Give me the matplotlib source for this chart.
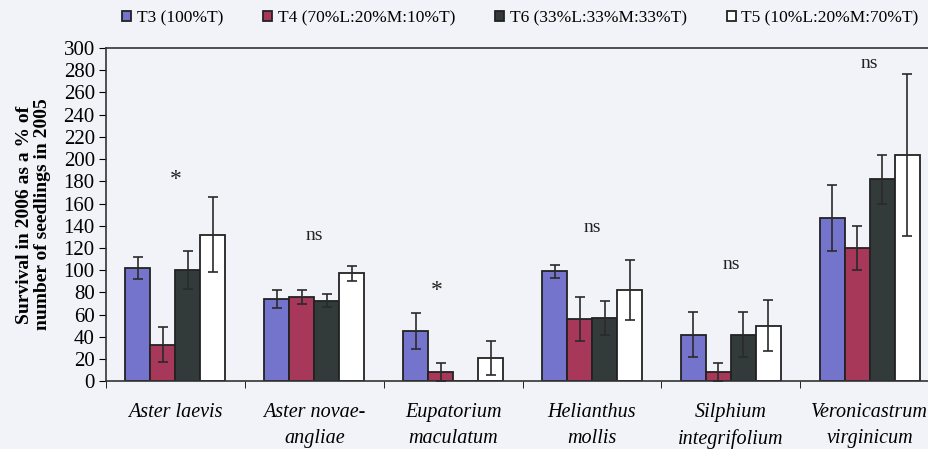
import matplotlib
matplotlib.use('Agg')
import matplotlib.pyplot as plt
import numpy as np

# data
species = ['Aster laevis', 'Aster novae-\nangliae', 'Eupatorium\nmaculatum',
           'Helianthus\nmollis', 'Silphium\nintegrifolium', 'Veronicastrum\nvirginicum']
labels = ['T3 (100%T)', 'T4 (70%L:20%M:10%T)', 'T6 (33%L:33%M:33%T)', 'T5 (10%L:20%M:70%T)']
t3 = [102, 74, 45, 99, 42, 147]
t3_err = [10, 8.5, 16, 6, 20, 30]
t4 = [33, 76, 8, 56, 8, 120]
t4_err = [16, 6.5, 8, 20, 8, 20]
t6 = [100, 72.5, 0, 57, 42, 182]
t6_err = [17, 6, 0, 15, 20, 22]
t5 = [132, 97, 21, 82, 50, 204]
t5_err = [34, 7, 15.5, 27, 23, 73]
signif = ['*', 'ns', '*', 'ns', 'ns', 'ns']
signif_y = [182, 131, 82, 138, 105, 286]

bg = '#f2f3f8'
colors = ['#7474cc', '#a8385a', '#333a3a', 'white']

plt.rcParams['font.family'] = ['Liberation Serif', 'DejaVu Serif']

fig = plt.figure(figsize=(9.29, 4.49), dpi=100, facecolor=bg)
ax = fig.add_axes([0.114, 0.151, 0.897, 0.742], facecolor=bg)

x = np.arange(len(species))
w = 0.18
series = [(t3, t3_err), (t4, t4_err), (t6, t6_err), (t5, t5_err)]
for i, (vals, errs) in enumerate(series):
    pos = x + (i - 1.5) * w
    ax.bar(pos, vals, w, color=colors[i], edgecolor='#222222', linewidth=1.3,
           label=labels[i], zorder=2)
    for p, v, e in zip(pos, vals, errs):
        if e > 0:
            ax.errorbar(p, v, yerr=e, fmt='none', ecolor='#2a2a2a', elinewidth=1.2,
                        capsize=3.8, capthick=1.2, zorder=3)

for i, s in enumerate(signif):
    dx = -0.12 if i == 2 else 0.0
    fs = 17 if s == '*' else 14
    ax.text(x[i] + dx, signif_y[i], s, ha='center', va='center', fontsize=fs, color='#222222')

ax.set_xlim(-0.5, 5.5)
ax.set_ylim(0, 300)
ax.set_yticks(range(0, 301, 20))
ax.tick_params(axis='y', labelsize=15, direction='out', length=5, pad=3)
ax.set_xticks(x)
ax.set_xticklabels(species, fontsize=14.5, style='italic', linespacing=1.45)
ax.tick_params(axis='x', length=0, pad=16)
ax.set_xticks(np.arange(-0.5, 6, 1), minor=True)
ax.tick_params(axis='x', which='minor', length=5, direction='out')
for sp in ['left', 'bottom', 'top']:
    ax.spines[sp].set_color('#333333')
    ax.spines[sp].set_linewidth(1.2)
ax.spines['right'].set_visible(False)

ax.set_ylabel('Survival in 2006 as a % of\nnumber of seedlings in 2005',
              fontsize=14, fontweight='bold', linespacing=1.1)
ax.yaxis.set_label_coords(-0.066, 0.5)

fig.legend(loc='upper left', bbox_to_anchor=(0.118, 1.005), ncol=4, frameon=False,
           fontsize=12.5, handlelength=0.55, handleheight=0.55, handletextpad=0.3,
           columnspacing=2.3, borderpad=0.2)

plt.savefig('out.png', dpi=100, facecolor=bg)
